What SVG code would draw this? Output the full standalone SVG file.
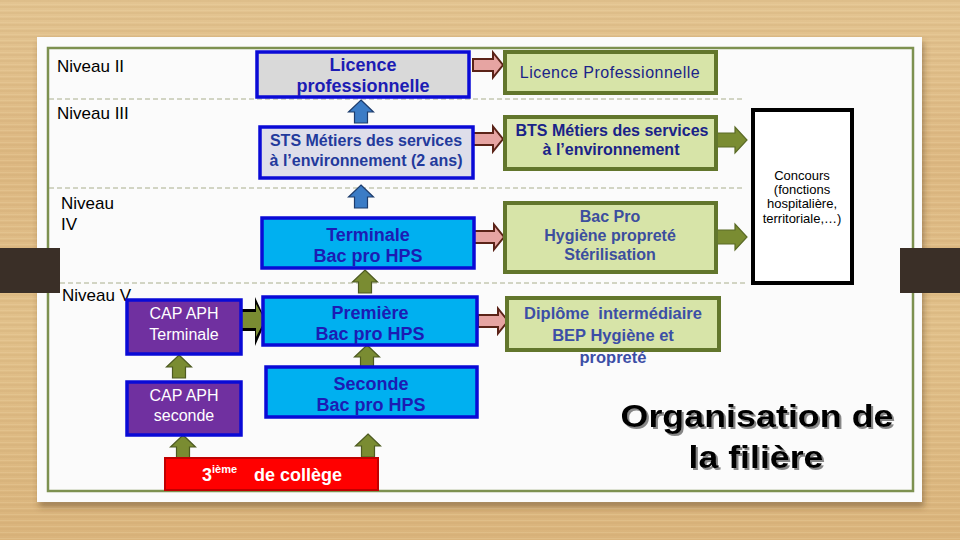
<svg xmlns="http://www.w3.org/2000/svg" xmlns:xlink="http://www.w3.org/1999/xlink" width="960" height="540" viewBox="0 0 960 540">
  <defs>
    <linearGradient id="wood" x1="0" y1="0" x2="0" y2="1">
      <stop offset="0" stop-color="#e3c491"/>
      <stop offset="0.3" stop-color="#ddb882"/>
      <stop offset="0.6" stop-color="#e1c08a"/>
      <stop offset="1" stop-color="#dab47c"/>
    </linearGradient>
    <pattern id="grain" width="960" height="6" patternUnits="userSpaceOnUse">
      <rect x="0" y="0" width="960" height="2" fill="#c9a06a" opacity="0.18"/>
      <rect x="0" y="4" width="960" height="1" fill="#f0d6a6" opacity="0.25"/>
    </pattern>
    <filter id="shadow" x="-5%" y="-5%" width="110%" height="115%">
      <feDropShadow dx="2" dy="5" stdDeviation="3" flood-color="#5a4020" flood-opacity="0.45"/>
    </filter>
    <filter id="tshadow" x="-5%" y="-20%" width="110%" height="140%">
      <feDropShadow dx="2" dy="2" stdDeviation="0.6" flood-color="#7a7a7a" flood-opacity="0.9"/>
    </filter>
    <path id="up" d="M0,0 L12.5,12 L6.5,12 L6.5,23 L-6.5,23 L-6.5,12 L-12.5,12 Z"/>
    <path id="right" d="M0,-6 L20,-6 L20,-12.5 L30,0 L20,12.5 L20,6 L0,6 Z"/>
    <path id="rightG" d="M0,-7 L18,-7 L18,-13 L30,0 L18,13 L18,7 L0,7 Z"/>
    <style>
      text { font-family: "Liberation Sans", Arial, sans-serif; }
      .niv { font-size: 17px; fill: #000; }
      .bluebox { stroke: #0a0ad6; stroke-width: 3.5; }
      .grey { fill: #d9d9d9; }
      .greyb { fill: #dedeea; }
      .cyan { fill: #00b0f0; }
      .purple { fill: #7030a0; }
      .green { fill: #d7e4a8; stroke: #62762c; stroke-width: 4; }
      .btxt { font-size: 18px; font-weight: bold; fill: #1c1cb4; text-anchor: middle; }
      .stxt { font-size: 16px; font-weight: bold; fill: #233a9c; text-anchor: middle; }
      .ctxt { font-size: 16px; fill: #ffffff; text-anchor: middle; }
      .gtxt { font-size: 16px; font-weight: bold; fill: #1a2388; text-anchor: middle; }
      .gtxtL { font-size: 16px; fill: #1a2388; text-anchor: middle; letter-spacing: 0.5px; }
      .gtxt2 { font-size: 16px; font-weight: bold; fill: #3c4e9e; text-anchor: middle; }
      .gtxt3 { font-size: 16.5px; font-weight: bold; fill: #3c4ea6; text-anchor: middle; }
      .ktxt { font-size: 13px; fill: #000; text-anchor: middle; }
      .dash { stroke: #a9ae8c; stroke-width: 1; stroke-dasharray: 5 3; fill: none; }
      .aBlue { fill: #3b7cc6; stroke: #1d3c6c; stroke-width: 1.2; }
      .aOlive { fill: #7a8c32; stroke: #4d5a20; stroke-width: 1.2; }
      .aPink { fill: #e6a4a2; stroke: #5b2318; stroke-width: 2; }
      .aOliveR { fill: #7a8c32; stroke: #5a6a26; stroke-width: 1.2; }
    </style>
  </defs>

  <!-- background -->
  <rect x="0" y="0" width="960" height="540" fill="url(#wood)"/>
  <rect x="0" y="0" width="960" height="540" fill="url(#grain)"/>

  <!-- paper -->
  <rect x="37" y="37" width="885" height="465" fill="#fbfbfb" filter="url(#shadow)"/>
  <rect x="48" y="48" width="865" height="443" fill="none" stroke="#7d9150" stroke-width="2.5"/>

  <!-- dark tabs -->
  <rect x="0" y="248" width="60" height="45" fill="#3a2f27"/>
  <rect x="900" y="248" width="60" height="45" fill="#3a2f27"/>

  <!-- dashed level separators -->
  <g id="separators">
    <line class="dash" x1="49" y1="99" x2="745" y2="99"/>
    <line class="dash" x1="49" y1="188" x2="745" y2="188"/>
    <line class="dash" x1="60" y1="283" x2="745" y2="283"/>
  </g>

  <!-- level labels -->
  <g id="levels">
    <text class="niv" x="57" y="72">Niveau II</text>
    <text class="niv" x="57" y="119">Niveau III</text>
    <text class="niv" x="61" y="209">Niveau</text>
    <text class="niv" x="61" y="230">IV</text>
    <text class="niv" x="62" y="301">Niveau V</text>
  </g>

  <!-- connectors -->
  <g id="connectors">
    <use xlink:href="#up" href="#up" class="aBlue" x="361" y="100"/>
    <use xlink:href="#up" href="#up" class="aBlue" x="361" y="185"/>
    <use xlink:href="#up" href="#up" class="aOlive" x="365" y="270"/>
    <use xlink:href="#up" href="#up" class="aOlive" x="367" y="345"/>
    <use xlink:href="#up" href="#up" class="aOlive" x="368" y="434"/>
    <use xlink:href="#up" href="#up" class="aOlive" x="179" y="355"/>
    <use xlink:href="#up" href="#up" class="aOlive" x="183" y="435"/>
    <use xlink:href="#right" href="#right" class="aPink" x="473" y="65"/>
    <use xlink:href="#right" href="#right" class="aPink" x="473" y="139"/>
    <use xlink:href="#right" href="#right" class="aPink" x="474" y="237"/>
    <use xlink:href="#right" href="#right" class="aPink" x="478" y="321"/>
    <use xlink:href="#rightG" href="#rightG" class="aOliveR" x="717" y="140"/>
    <use xlink:href="#rightG" href="#rightG" class="aOliveR" x="717" y="237"/>
    <path d="M241,309 L255,309 L255,297 L266,321 L255,346 L255,331 L241,331 Z" fill="#000"/>
    <path d="M242,312 L256,312 L256,304 L265,320 L256,337 L256,328 L242,328 Z" fill="#7a8c32"/>
  </g>

  <!-- left column nodes -->
  <g id="licence-pro">
    <rect class="bluebox grey" x="257" y="52" width="212" height="45"/>
    <text class="btxt" x="363" y="71">Licence</text>
    <text class="btxt" x="363" y="92">professionnelle</text>
  </g>
  <g id="sts">
    <rect class="bluebox greyb" x="260" y="127" width="213" height="51"/>
    <text class="stxt" x="366" y="146">STS Métiers des services</text>
    <text class="stxt" x="366" y="166">à l’environnement (2 ans)</text>
  </g>
  <g id="terminale">
    <rect class="bluebox cyan" x="262" y="218" width="212" height="50"/>
    <text class="btxt" x="368" y="241">Terminale</text>
    <text class="btxt" x="368" y="262">Bac pro HPS</text>
  </g>
  <g id="premiere">
    <rect class="bluebox cyan" x="263" y="297" width="214" height="48"/>
    <text class="btxt" x="370" y="319">Première</text>
    <text class="btxt" x="370" y="340">Bac pro HPS</text>
  </g>
  <g id="seconde">
    <rect class="bluebox cyan" x="266" y="367" width="211" height="50"/>
    <text class="btxt" x="371" y="390">Seconde</text>
    <text class="btxt" x="371" y="411">Bac pro HPS</text>
  </g>
  <g id="cap-terminale">
    <rect class="bluebox purple" x="127" y="300" width="114" height="54"/>
    <text class="ctxt" x="184" y="319">CAP APH</text>
    <text class="ctxt" x="184" y="340">Terminale</text>
  </g>
  <g id="cap-seconde">
    <rect class="bluebox purple" x="127" y="382" width="114" height="53"/>
    <text class="ctxt" x="184" y="401">CAP APH</text>
    <text class="ctxt" x="184" y="421">seconde</text>
  </g>
  <g id="college">
    <rect x="165" y="458" width="213" height="32" fill="#ff0000" stroke="#c00000" stroke-width="2"/>
    <text x="202" y="481" font-size="18" font-weight="bold" fill="#fff">3<tspan font-size="11" dy="-8">ième</tspan><tspan font-size="18" x="254" dy="8">de collège</tspan></text>
  </g>

  <!-- right column nodes -->
  <g id="licence-professionnelle">
    <rect class="green" x="505" y="52" width="211" height="41"/>
    <text class="gtxtL" x="610" y="78">Licence Professionnelle</text>
  </g>
  <g id="bts">
    <rect class="green" x="505" y="117" width="211" height="52"/>
    <text class="gtxt" x="612" y="136">BTS Métiers des services</text>
    <text class="gtxt" x="611" y="155">à l’environnement</text>
  </g>
  <g id="bac-pro">
    <rect class="green" x="505" y="203" width="211" height="69"/>
    <text class="gtxt2" x="610" y="222">Bac Pro</text>
    <text class="gtxt2" x="610" y="241">Hygiène propreté</text>
    <text class="gtxt2" x="610" y="260">Stérilisation</text>
  </g>
  <g id="diplome">
    <rect class="green" x="507" y="298" width="212" height="52"/>
    <text class="gtxt3" x="613" y="319">Diplôme&#160; intermédiaire</text>
    <text class="gtxt3" x="613" y="341">BEP Hygiène et</text>
    <text class="gtxt3" x="613" y="363">propreté</text>
  </g>
  <g id="concours">
    <rect x="753" y="110" width="99" height="173" fill="#ffffff" stroke="#000" stroke-width="4"/>
    <text class="ktxt" x="802" y="180">Concours</text>
    <text class="ktxt" x="802" y="194">(fonctions</text>
    <text class="ktxt" x="802" y="208">hospitalière,</text>
    <text class="ktxt" x="802" y="223">territoriale,…)</text>
  </g>

  <!-- title -->
  <g id="title" filter="url(#tshadow)">
    <text x="757" y="427" font-size="31" font-weight="bold" fill="#000" text-anchor="middle" textLength="273" lengthAdjust="spacingAndGlyphs">Organisation de</text>
    <text x="756" y="468" font-size="31" font-weight="bold" fill="#000" text-anchor="middle" textLength="135" lengthAdjust="spacingAndGlyphs">la filière</text>
  </g>
</svg>
